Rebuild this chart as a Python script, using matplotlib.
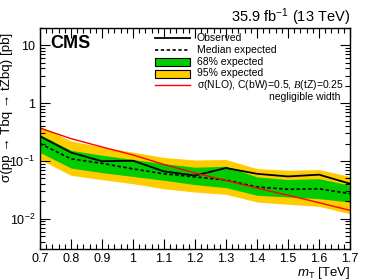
import matplotlib
matplotlib.use("Agg")
import matplotlib.pyplot as plt
from matplotlib.patches import Rectangle
from matplotlib.ticker import FixedLocator, FuncFormatter, MultipleLocator, LogLocator, NullFormatter
import numpy as np

plt.rcParams['font.family'] = ['Liberation Sans', 'DejaVu Sans']
plt.rcParams['mathtext.fontset'] = 'custom'
plt.rcParams['mathtext.rm'] = 'Liberation Sans'
plt.rcParams['mathtext.it'] = 'Liberation Sans:italic'
plt.rcParams['mathtext.bf'] = 'Liberation Sans:bold'
plt.rcParams['mathtext.cal'] = 'Liberation Serif:italic'

mass = [0.7, 0.8, 0.9, 1.0, 1.1, 1.2, 1.3, 1.4, 1.5, 1.6, 1.7]
observed = [0.268, 0.14, 0.099, 0.101, 0.066, 0.056, 0.0756, 0.060, 0.054, 0.058, 0.0405]
expected = [0.20, 0.109, 0.091, 0.073, 0.060, 0.053, 0.0468, 0.0355, 0.0324, 0.033, 0.0272]
band68_lo = [0.140, 0.0756, 0.0628, 0.054, 0.0463, 0.039, 0.0346, 0.0255, 0.0238, 0.0223, 0.0195]
band68_hi = [0.285, 0.153, 0.126, 0.106, 0.090, 0.078, 0.081, 0.053, 0.0478, 0.0495, 0.038]
band95_lo = [0.106, 0.0565, 0.0475, 0.0405, 0.033, 0.029, 0.0265, 0.0195, 0.0178, 0.0164, 0.0122]
band95_hi = [0.40, 0.222, 0.175, 0.142, 0.115, 0.104, 0.106, 0.0738, 0.069, 0.071, 0.054]
theory = [0.37, 0.244, 0.175, 0.127, 0.087, 0.062, 0.046, 0.034, 0.0255, 0.019, 0.014]

ytick_vals = [1e-2, 1e-1, 1, 10]
ytick_labels = ['$10^{-2}$', '$10^{-1}$', '1', '10']
xtick_vals = [0.7, 0.8, 0.9, 1.0, 1.1, 1.2, 1.3, 1.4, 1.5, 1.6, 1.7]
xtick_labels = ['0.7', '0.8', '0.9', '1', '1.1', '1.2', '1.3', '1.4', '1.5', '1.6', '1.7']
legend_labels = ['Observed', 'Median expected', '68% expected', '95% expected',
                 'σ(NLO), C(bW)=0.5, $\\mathcal{B}$(tZ)=0.25']

GREEN = '#00CC00'
YELLOW = '#FFCC00'
DASH = (0, (2, 1.5))

W, H = 390, 280
AX_L, AX_R, AX_T, AX_B = 40, 350, 28, 249

fig = plt.figure(figsize=(3.9, 2.8), dpi=100)
ax = fig.add_axes([AX_L/W, 1-AX_B/H, (AX_R-AX_L)/W, (AX_B-AX_T)/H])

def axc(px, py):
    return ((px-AX_L)/(AX_R-AX_L), (AX_B-py)/(AX_B-AX_T))

ax.fill_between(mass, band95_lo, band95_hi, color=YELLOW, lw=0)
ax.fill_between(mass, band68_lo, band68_hi, color=GREEN, lw=0)
ax.plot(mass, expected, color='black', ls=DASH, lw=1.2)
ax.plot(mass, observed, color='black', lw=1.3)
ax.plot(mass, theory, color='red', lw=1.0)

ax.set_yscale('log')
ax.set_ylim(0.003, 20)
ax.set_xlim(0.7, 1.7)

ax.yaxis.set_major_locator(FixedLocator(ytick_vals))
ax.yaxis.set_major_formatter(FuncFormatter(lambda v, p: ytick_labels[ytick_vals.index(min(ytick_vals, key=lambda t: abs(np.log10(t) - np.log10(v))))]))
ax.yaxis.set_minor_locator(LogLocator(base=10, subs=np.arange(2, 10), numticks=20))
ax.yaxis.set_minor_formatter(NullFormatter())
ax.xaxis.set_major_locator(FixedLocator(xtick_vals))
ax.set_xticklabels(xtick_labels)
ax.xaxis.set_minor_locator(MultipleLocator(0.02))

ax.tick_params(which='both', direction='in', top=True, right=True, labelsize=9, colors='black')
ax.tick_params(which='major', length=7, width=0.8)
ax.tick_params(which='minor', length=3.5, width=0.8)
ax.tick_params(axis='x', pad=3)
for s in ax.spines.values():
    s.set_linewidth(1.0)

ax.set_xlabel('$m_{\\mathrm{T}}$ [TeV]', fontsize=9.5, loc='right', labelpad=0)
ax.set_ylabel('σ(pp → Tbq → tZbq) [pb]', fontsize=9.6, loc='top')
ax.yaxis.set_label_coords(*axc(13, 33))

fig.text(AX_R/W, 1-17/H, '35.9 fb$^{-1}$ (13 TeV)', ha='right', va='center', fontsize=10.5)
ax.text(*axc(50, 44), 'CMS', transform=ax.transAxes, fontsize=13, fontweight='bold', ha='left', va='center')

# legend drawn by hand
rows = [38, 50, 62, 73.5, 85]
hx0, hx1, tx = 155, 190, 197
for i, (py, lab) in enumerate(zip(rows, legend_labels)):
    x0, y = axc(hx0, py)
    x1, _ = axc(hx1, py)
    if i == 0:
        ax.plot([x0, x1], [y, y], color='black', lw=1.3, transform=ax.transAxes, clip_on=False)
    elif i == 1:
        ax.plot([x0, x1], [y, y], color='black', lw=1.2, ls=DASH, transform=ax.transAxes, clip_on=False)
    elif i in (2, 3):
        _, yb = axc(hx0, py+4)
        _, yt = axc(hx0, py-4)
        ax.add_patch(Rectangle((x0, yb), x1-x0, yt-yb, facecolor=GREEN if i == 2 else YELLOW,
                               edgecolor='black', lw=0.8, transform=ax.transAxes, clip_on=False))
    else:
        ax.plot([x0, x1], [y, y], color='red', lw=1.0, transform=ax.transAxes, clip_on=False)
    ax.text(*axc(tx, py), lab, transform=ax.transAxes, fontsize=7.5, ha='left', va='center')
ax.text(*axc(340, 97), 'negligible width', transform=ax.transAxes,
        fontsize=7.5, ha='right', va='center')

fig.savefig('out.png', dpi=100)
